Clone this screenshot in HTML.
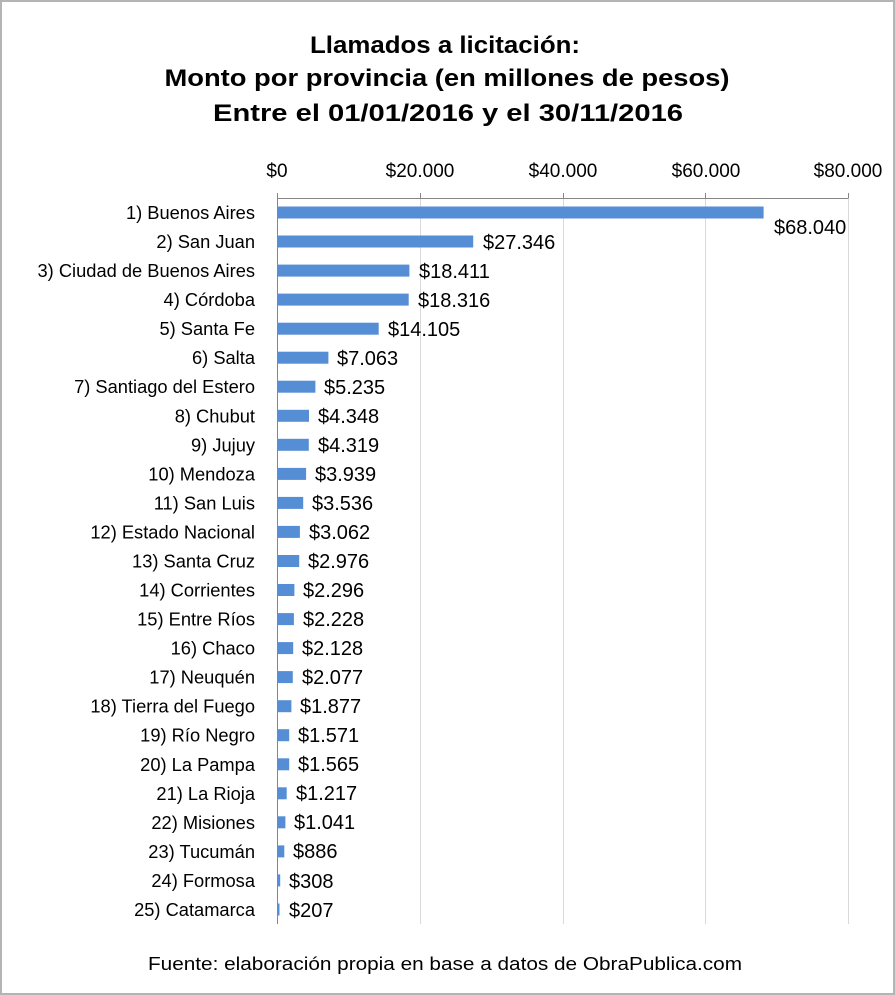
<!DOCTYPE html>
<html><head><meta charset="utf-8"><style>
html,body{margin:0;padding:0;background:#fff}
svg{display:block}
text{font-family:"Liberation Sans",sans-serif;fill:#000}
</style></head><body>
<svg width="895" height="995" xmlns="http://www.w3.org/2000/svg">
<rect x="1" y="1" width="893" height="993" fill="#fff" stroke="#b4b4b4" stroke-width="2"/>
<g font-weight="bold" font-size="24" text-anchor="middle">
<text x="445" y="53" textLength="270" lengthAdjust="spacingAndGlyphs">Llamados a licitación:</text>
<text x="447" y="86" textLength="565" lengthAdjust="spacingAndGlyphs">Monto por provincia (en millones de pesos)</text>
<text x="448" y="121" textLength="470" lengthAdjust="spacingAndGlyphs">Entre el 01/01/2016 y el 30/11/2016</text>
</g>
<g stroke="#d9d9d9" stroke-width="1">
<line x1="420.5" y1="198" x2="420.5" y2="924"/>
<line x1="563.5" y1="198" x2="563.5" y2="924"/>
<line x1="705.5" y1="198" x2="705.5" y2="924"/>
<line x1="848.5" y1="198" x2="848.5" y2="924"/>
</g>
<g stroke="#868686" stroke-width="1">
<line x1="277.5" y1="198.5" x2="848.5" y2="198.5"/>
<line x1="277.5" y1="193" x2="277.5" y2="924"/>
<line x1="420.5" y1="193" x2="420.5" y2="198"/>
<line x1="563.5" y1="193" x2="563.5" y2="198"/>
<line x1="705.5" y1="193" x2="705.5" y2="198"/>
<line x1="848.5" y1="193" x2="848.5" y2="198"/>
</g>
<g font-size="19" text-anchor="middle">
<text x="277" y="177">$0</text>
<text x="420" y="177">$20.000</text>
<text x="563" y="177">$40.000</text>
<text x="706" y="177">$60.000</text>
<text x="848" y="177">$80.000</text>
</g>
<g fill="#558ed5">
<rect x="278" y="206.5" width="485.6" height="12"/>
<rect x="278" y="235.5" width="195.2" height="12"/>
<rect x="278" y="264.6" width="131.4" height="12"/>
<rect x="278" y="293.6" width="130.7" height="12"/>
<rect x="278" y="322.7" width="100.7" height="12"/>
<rect x="278" y="351.7" width="50.4" height="12"/>
<rect x="278" y="380.7" width="37.4" height="12"/>
<rect x="278" y="409.8" width="31.0" height="12"/>
<rect x="278" y="438.8" width="30.8" height="12"/>
<rect x="278" y="467.9" width="28.1" height="12"/>
<rect x="278" y="496.9" width="25.2" height="12"/>
<rect x="278" y="525.9" width="21.9" height="12"/>
<rect x="278" y="555.0" width="21.2" height="12"/>
<rect x="278" y="584.0" width="16.4" height="12"/>
<rect x="278" y="613.1" width="15.9" height="12"/>
<rect x="278" y="642.1" width="15.2" height="12"/>
<rect x="278" y="671.1" width="14.8" height="12"/>
<rect x="278" y="700.2" width="13.4" height="12"/>
<rect x="278" y="729.2" width="11.2" height="12"/>
<rect x="278" y="758.3" width="11.2" height="12"/>
<rect x="278" y="787.3" width="8.7" height="12"/>
<rect x="278" y="816.3" width="7.4" height="12"/>
<rect x="278" y="845.4" width="6.3" height="12"/>
<rect x="278" y="874.4" width="2.2" height="12"/>
<rect x="278" y="903.5" width="1.5" height="12"/>
</g>
<g font-size="18.3" text-anchor="end">
<text x="255" y="219">1) Buenos Aires</text>
<text x="255" y="248">2) San Juan</text>
<text x="255" y="277.1">3) Ciudad de Buenos Aires</text>
<text x="255" y="306.1">4) Córdoba</text>
<text x="255" y="335.2">5) Santa Fe</text>
<text x="255" y="364.2">6) Salta</text>
<text x="255" y="393.2">7) Santiago del Estero</text>
<text x="255" y="422.3">8) Chubut</text>
<text x="255" y="451.3">9) Jujuy</text>
<text x="255" y="480.4">10) Mendoza</text>
<text x="255" y="509.4">11) San Luis</text>
<text x="255" y="538.4">12) Estado Nacional</text>
<text x="255" y="567.5">13) Santa Cruz</text>
<text x="255" y="596.5">14) Corrientes</text>
<text x="255" y="625.6">15) Entre Ríos</text>
<text x="255" y="654.6">16) Chaco</text>
<text x="255" y="683.6">17) Neuquén</text>
<text x="255" y="712.7">18) Tierra del Fuego</text>
<text x="255" y="741.7">19) Río Negro</text>
<text x="255" y="770.8">20) La Pampa</text>
<text x="255" y="799.8">21) La Rioja</text>
<text x="255" y="828.8">22) Misiones</text>
<text x="255" y="857.9">23) Tucumán</text>
<text x="255" y="886.9">24) Formosa</text>
<text x="255" y="916">25) Catamarca</text>
</g>
<g font-size="20">
<text x="774" y="234">$68.040</text>
<text x="483" y="249">$27.346</text>
<text x="419" y="278">$18.411</text>
<text x="418" y="307">$18.316</text>
<text x="388" y="336">$14.105</text>
<text x="337" y="365">$7.063</text>
<text x="324" y="394">$5.235</text>
<text x="318" y="423">$4.348</text>
<text x="318" y="452">$4.319</text>
<text x="315" y="481">$3.939</text>
<text x="312" y="510">$3.536</text>
<text x="309" y="539">$3.062</text>
<text x="308" y="568">$2.976</text>
<text x="303" y="597">$2.296</text>
<text x="303" y="626">$2.228</text>
<text x="302" y="655">$2.128</text>
<text x="302" y="684">$2.077</text>
<text x="300" y="713">$1.877</text>
<text x="298" y="742">$1.571</text>
<text x="298" y="771">$1.565</text>
<text x="296" y="800">$1.217</text>
<text x="294" y="829">$1.041</text>
<text x="293" y="858">$886</text>
<text x="289" y="888">$308</text>
<text x="289" y="917">$207</text>
</g>
<text x="445" y="970" font-size="18" text-anchor="middle" textLength="594" lengthAdjust="spacingAndGlyphs">Fuente: elaboración propia en base a datos de ObraPublica.com</text>
</svg>
</body></html>
